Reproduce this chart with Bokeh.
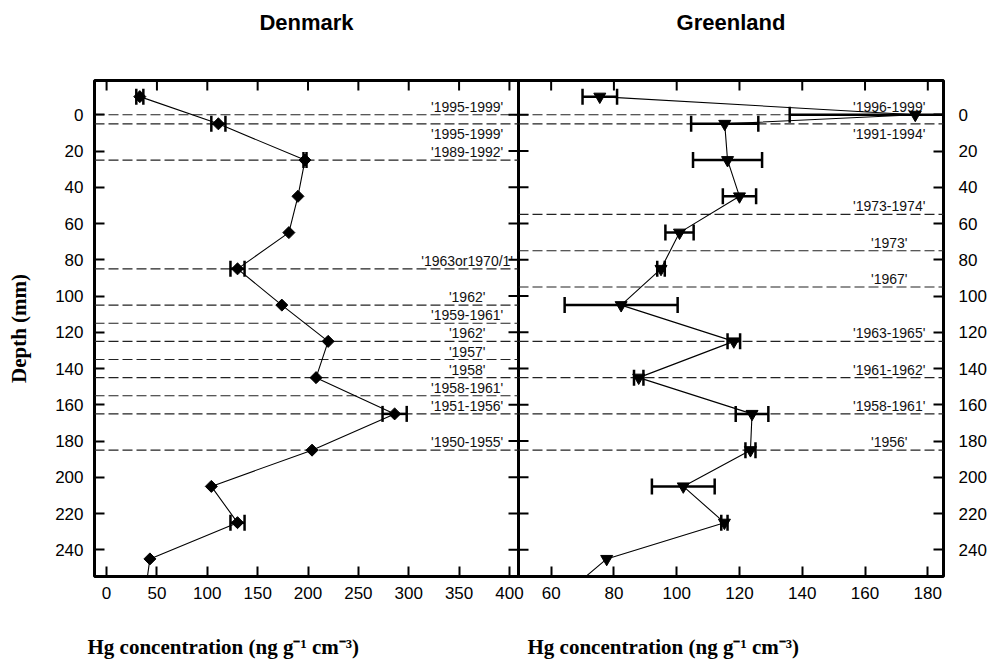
import math
from bokeh.plotting import figure
from bokeh.models import Range1d, FixedTicker, Span, ColumnDataSource
from bokeh.layouts import row, column
from bokeh.embed import file_html
from bokeh.resources import INLINE
from bokeh.core.properties import value

# ---------------- data ----------------
# Denmark (diamonds)
dk_depth = [-10, 5, 25, 45, 65, 85, 105, 125, 145, 165, 185, 205, 225, 245, 265]
dk_hg = [33, 111, 197, 190, 181, 130, 174, 220, 208, 286, 204, 104, 130, 43, 38]
dk_err = [3.5, 7, 1.5, 0, 0, 7, 0, 0, 0, 12, 0, 0, 7, 0, 0]

dk_horizon_depth = [0, 5, 25, 85, 105, 115, 125, 135, 145, 155, 165, 185]
dk_horizon_label = ["'1995-1999'", "'1995-1999'", "'1989-1992'", "'1963or1970/1'", "'1962'",
                    "'1959-1961'", "'1962'", "'1957'", "'1958'", "'1958-1961'", "'1951-1956'",
                    "'1950-1955'"]
dk_label_below = [False, True, False, False, False, False, False, False, False, False, False, False]

# Greenland (inverted triangles)
gl_depth = [-10, 0, 5, 25, 45, 65, 85, 105, 125, 145, 165, 185, 205, 225, 245, 265]
gl_hg = [75.5, 176, 115.3, 116.2, 120, 100.9, 95, 82.3, 118.2, 87.9, 124, 123.5, 102.1, 115.2, 77.7, 64]
gl_err = [5.5, 40, 10.7, 11, 5.3, 4.5, 1.2, 18, 2, 1.5, 5.2, 1.6, 10, 1, 0, 0]

gl_horizon_depth = [0, 5, 55, 75, 95, 125, 145, 165, 185]
gl_horizon_label = ["'1996-1999'", "'1991-1994'", "'1973-1974'", "'1973'", "'1967'",
                    "'1963-1965'", "'1961-1962'", "'1958-1961'", "'1956'"]
gl_label_below = [False, True, False, False, False, False, False, False, False]

depth_ticks = list(range(0, 241, 20))
dk_ticks = list(range(0, 401, 50))
gl_ticks = list(range(60, 181, 20))

panel_titles = ["Denmark", "Greenland"]
XTITLE = "Hg concentration (ng g\u207B\u00B9 cm\u207B\u00B3)"

SANS = "Liberation Sans"
SERIF = "Liberation Serif"

PAGE_W = 985
TOP_H = 44
BOTTOM_H = 52
FRAME_L, FRAME_MID, FRAME_R = 94, 518, 943


def style_axis(ax):
    ax.major_tick_in = 10
    ax.major_tick_out = 0
    ax.major_tick_line_width = 2
    ax.major_tick_line_color = "black"
    ax.minor_tick_line_color = None
    ax.axis_line_color = None
    ax.major_label_text_font = SANS
    ax.major_label_text_font_size = "17px"
    ax.major_label_text_color = "black"


def make_panel(width, x_range, x_ticks, y_loc, min_left, min_right,
               depth, hg, err, marker, msize, mangle,
               h_depth, h_label, h_below, label_x, margin):
    y_range = Range1d(254.7, -18.9)
    p = figure(width=width, height=36 + 496 + 34, x_range=x_range, y_range=y_range,
               output_backend="svg", toolbar_location=None, y_axis_location=y_loc,
               min_border_left=min_left, min_border_right=min_right,
               min_border_top=80 - TOP_H, min_border_bottom=34,
               background_fill_alpha=0, border_fill_alpha=0, margin=margin)
    p.xgrid.visible = False
    p.ygrid.visible = False
    p.outline_line_color = "black"
    p.outline_line_width = 3
    p.outline_line_alpha = 1

    xax = p.xaxis[0]
    yax = p.yaxis[0]
    xax.ticker = FixedTicker(ticks=x_ticks)
    yax.ticker = FixedTicker(ticks=depth_ticks)
    style_axis(xax)
    style_axis(yax)
    xax.major_label_standoff = 10
    yax.major_label_standoff = 11 if y_loc == "left" else 15

    # inward ticks on the top edge and on the opposite vertical edge (clipped to the frame)
    p.scatter(x=x_ticks, y=[y_range.end] * len(x_ticks), marker="dash", angle=math.pi / 2,
              size=20, line_color="black", line_width=2)
    edge_x = x_range.end if y_loc == "left" else x_range.start
    p.scatter(x=[edge_x] * len(depth_ticks), y=depth_ticks, marker="dash", angle=0,
              size=20, line_color="black", line_width=2)

    # horizon dashed lines
    for d in h_depth:
        p.add_layout(Span(location=d, dimension="width", line_color="#222222",
                          line_width=1.2, line_dash="10 4", level="underlay"))

    above = ColumnDataSource(dict(
        x=[label_x for b in h_below if not b],
        y=[d for d, b in zip(h_depth, h_below) if not b],
        t=[t for t, b in zip(h_label, h_below) if not b]))
    below = ColumnDataSource(dict(
        x=[label_x for b in h_below if b],
        y=[d for d, b in zip(h_depth, h_below) if b],
        t=[t for t, b in zip(h_label, h_below) if b]))
    p.text(x="x", y="y", text="t", source=above, text_align="center", text_baseline="bottom",
           text_font=value(SANS), text_font_size="14px", text_color="#111111", y_offset=0)
    p.text(x="x", y="y", text="t", source=below, text_align="center", text_baseline="top",
           text_font=value(SANS), text_font_size="14px", text_color="#111111", y_offset=2)

    # data line
    p.line(hg, depth, line_color="black", line_width=1.1)

    # error bars
    idx = [i for i, e in enumerate(err) if e > 0]
    lo = [hg[i] - err[i] for i in idx]
    hi = [hg[i] + err[i] for i in idx]
    yy = [depth[i] for i in idx]
    p.segment(x0=lo, y0=yy, x1=hi, y1=yy, line_color="black", line_width=2.5)
    p.scatter(x=lo + hi, y=yy + yy, marker="dash", angle=math.pi / 2, size=16,
              line_color="black", line_width=2.5)

    # markers
    p.scatter(hg, depth, marker=marker, size=msize, angle=mangle,
              fill_color="black", line_color="black")
    return p, yax


def text_strip(height):
    f = figure(width=PAGE_W, height=height, x_range=Range1d(0, PAGE_W), y_range=Range1d(height, 0),
               output_backend="svg", toolbar_location=None, x_axis_type=None, y_axis_type=None,
               min_border=0, outline_line_color=None,
               background_fill_alpha=0, border_fill_alpha=0)
    f.xgrid.visible = False
    f.ygrid.visible = False
    return f


# panel titles
top = text_strip(TOP_H)
top.text(x=[(FRAME_L + FRAME_MID) / 2, (FRAME_MID + FRAME_R) / 2], y=[22, 22], text=panel_titles,
         text_align="center", text_baseline="middle", text_font=value(SANS),
         text_font_size="22px", text_font_style="bold", text_color="black")

p1, ax1 = make_panel(538, Range1d(-12, 409), dk_ticks, "left", 94, 20,
                     dk_depth, dk_hg, dk_err, "square", 8.5, math.pi / 4,
                     dk_horizon_depth, dk_horizon_label, dk_label_below, 358, (0, 0, 0, 0))
ax1.axis_label = "Depth (mm)"
ax1.axis_label_text_font = SERIF
ax1.axis_label_text_font_size = "21px"
ax1.axis_label_text_font_style = "bold"
ax1.axis_label_text_color = "black"
ax1.axis_label_standoff = 21

p2, ax2 = make_panel(472, Range1d(49.6, 185), gl_ticks, "right", 0, 47,
                     gl_depth, gl_hg, gl_err, "inverted_triangle", 12, 0,
                     gl_horizon_depth, gl_horizon_label, gl_label_below, 167.7, (0, 0, 0, -20))

# x-axis titles
bottom = text_strip(BOTTOM_H)
bottom.text(x=[FRAME_L - 7, FRAME_MID + 9], y=[36, 36], text=[XTITLE, XTITLE],
            text_align="left", text_baseline="middle", text_font=value(SERIF),
            text_font_size="21px", text_font_style="bold", text_color="black")

layout = column(top, row(p1, p2, spacing=0), bottom, spacing=0)
open("out.html", "w").write(file_html(layout, INLINE))
